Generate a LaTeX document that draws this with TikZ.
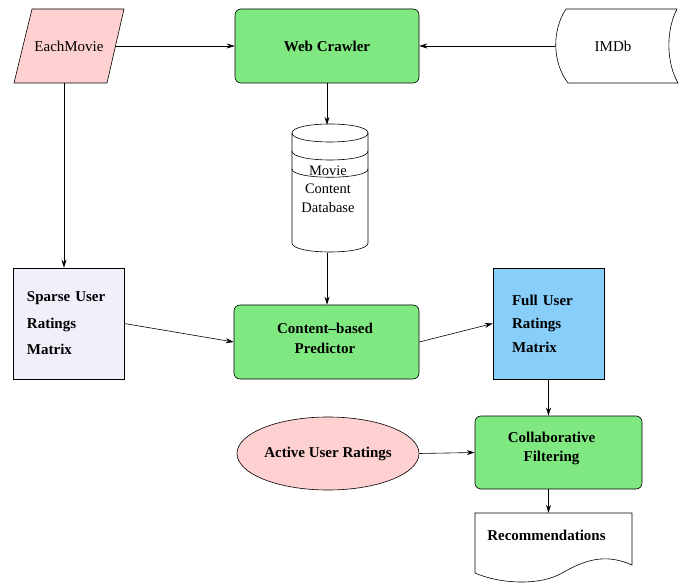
\documentclass[tikz,border=0pt]{standalone}
\usepackage{fontspec}
\setmainfont{Liberation Serif}
\usetikzlibrary{arrows.meta,shapes.geometric}
\definecolor{boxgreen}{RGB}{128,232,128}
\definecolor{pinkfill}{RGB}{255,208,208}
\definecolor{lavfill}{RGB}{240,240,250}
\definecolor{bluefill}{RGB}{135,206,250}
\begin{document}
\begin{tikzpicture}[x=1pt,y=-1pt,
  every node/.style={font=\fontsize{15}{18}\selectfont},
  proc/.style={draw, fill=boxgreen, rounded corners=6pt, line width=0.6pt, inner sep=0pt, align=center, font=\fontsize{15}{19}\selectfont\bfseries},
  boxtext/.style={inner sep=0pt, align=center, font=\fontsize{15}{19.5}\selectfont\bfseries},
  mat/.style={draw, line width=0.6pt, inner sep=0pt, minimum width=111pt, minimum height=111pt, align=left},
  outline/.style={draw, line width=0.6pt},
  ghost/.style={inner sep=0pt},
  conn/.style={line width=0.6pt, -{Stealth[length=8pt,width=5pt]}}
]
\useasboundingbox (0,0) rectangle (688,585);

% EachMovie
\draw[outline, fill=pinkfill] (32,9) -- (124,9) -- (107,83) -- (14,83) -- cycle;
\node[ghost, minimum width=92pt, minimum height=74pt] (each) at (69,46) {EachMovie};

% Web Crawler
\node[proc, minimum width=184pt, minimum height=74pt] (crawler) at (327,46) {Web Crawler};

% IMDb
\draw[outline, fill=white] (566,9) -- (677,9) .. controls (666,30) and (666,62) .. (678,83) -- (568,83) .. controls (552,62) and (552,30) .. (566,9);
\node[ghost, minimum width=116pt, minimum height=74pt] (imdb) at (613,46) {IMDb};

% Database cylinder
\draw[outline, fill=white] (292,133) .. controls (292,121) and (368,121) .. (368,133) -- (368,243) .. controls (368,255) and (292,255) .. (292,243) -- cycle;
\draw[outline] (292,133) .. controls (292,145) and (368,145) .. (368,133);
\draw[outline] (292,151) .. controls (292,163) and (368,163) .. (368,151);
\draw[outline] (292,169) .. controls (292,180) and (368,180) .. (368,169);
\node[ghost, minimum width=76pt, minimum height=128pt, align=center, font=\fontsize{14.5}{18.5}\selectfont] (db) at (328,189) {Movie\\Content\\Database};

% Sparse / Full matrices
\node[mat, fill=lavfill, text width=83pt, font=\fontsize{15}{26.5}\selectfont\bfseries] (sparse) at (68.5,323.5) {Sparse User\\Ratings\\Matrix};
\node[mat, fill=bluefill, text width=73pt, font=\fontsize{15}{23.5}\selectfont\bfseries] (full) at (548.5,323.5) {Full User\\Ratings\\Matrix};

% Predictor
\node[proc, minimum width=185pt, minimum height=74pt] (predictor) at (326.5,342) {};
\node[boxtext] (predictortext) at (325,338.5) {Content–based\\Predictor};

% Active user ratings
\node[ellipse, draw, line width=0.6pt, fill=pinkfill, minimum width=182pt, minimum height=73pt, inner sep=0pt, font=\fontsize{15}{18}\selectfont\bfseries] (active) at (328,453.5) {Active User Ratings};

% Collaborative filtering
\node[proc, minimum width=167pt, minimum height=73pt] (collab) at (558.5,452.5) {};
\node[boxtext] (collabtext) at (551.5,448.5) {Collaborative\\Filtering};

% Recommendations document
\draw[outline, fill=white] (475,513) -- (632,513) -- (632,565) .. controls (605,553) and (585,560) .. (562,573) .. controls (540,586) and (500,584) .. (475,573) -- cycle;
\node[ghost, minimum height=44pt, font=\fontsize{15}{18}\selectfont\bfseries] (rec) at (546.5,535) {Recommendations};

% Connectors
\draw[conn] (each.east) -- (crawler.west);
\draw[conn] (imdb.west) -- (crawler.east);
\draw[conn] (crawler.south) -- (crawler.south |- db.north);
\draw[conn] (crawler.south |- db.south) -- (crawler.south |- predictor.north);
\draw[conn] ([xshift=-5pt]each.south) -- ([xshift=-5pt]each.south |- sparse.north);
\draw[conn] (sparse.east) -- (predictor.west);
\draw[conn] (predictor.east) -- (full.west);
\draw[conn] (full.south) -- (full.south |- collab.north);
\draw[conn] (active.east) -- (collab.west);
\draw[conn] (collab.south -| full.south) -- (full.south |- rec.north);
\end{tikzpicture}
\end{document}
